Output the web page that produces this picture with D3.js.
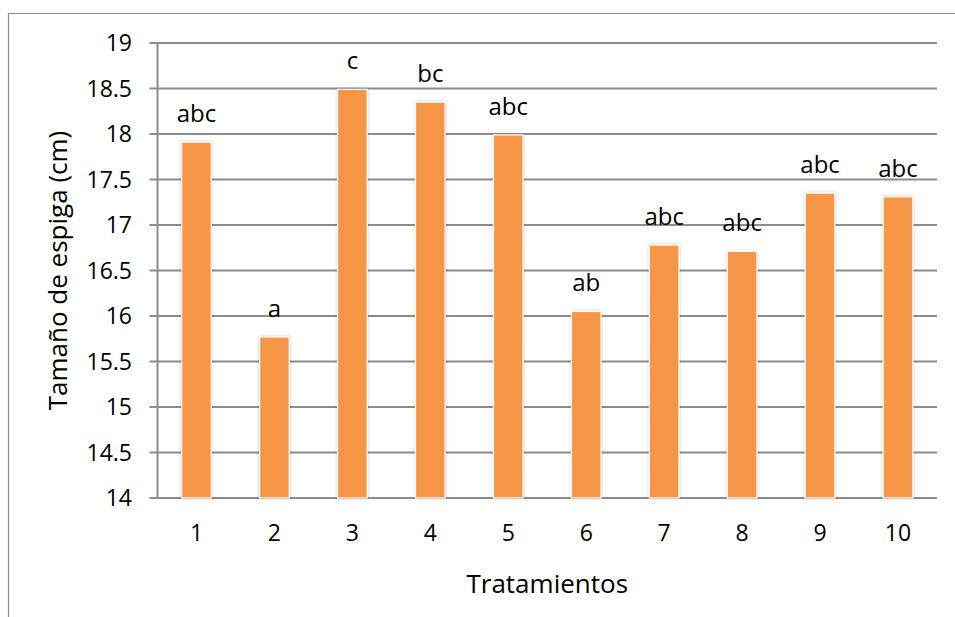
<!DOCTYPE html>
<html>
<head>
<meta charset="utf-8">
<script src="https://cdn.jsdelivr.net/npm/d3@7"></script>
<style>
  body { margin: 0; background: #fff; }
  svg { display: block; font-family: "Open Sans", sans-serif; }
</style>
</head>
<body>
<div id="chart"></div>
<script>
const categories = ["1", "2", "3", "4", "5", "6", "7", "8", "9", "10"];
const values = [17.91, 15.77, 18.49, 18.35, 17.99, 16.05, 16.78, 16.71, 17.35, 17.31];
const letters = ["abc", "a", "c", "bc", "abc", "ab", "abc", "abc", "abc", "abc"];
const yTicks = [14, 14.5, 15, 15.5, 16, 16.5, 17, 17.5, 18, 18.5, 19];

const width = 955;
const height = 617;
const margin = { top: 43, right: 18, bottom: 119, left: 157.5 };

const svg = d3.select("#chart").append("svg")
  .attr("width", width)
  .attr("height", height);

const defs = svg.append("defs");
const shadow = defs.append("filter").attr("id", "shadow")
  .attr("x", "-30%").attr("y", "-10%").attr("width", "160%").attr("height", "120%");
shadow.append("feDropShadow")
  .attr("dx", 0).attr("dy", 0).attr("stdDeviation", 1.6)
  .attr("flood-color", "#000").attr("flood-opacity", 0.25);

// outer frame (top and left edges visible)
svg.append("path")
  .attr("d", `M8.5,${height}V13.5H${width}`)
  .attr("fill", "none")
  .attr("stroke", "#8c8c8c")
  .attr("stroke-width", 1.2);

const x = d3.scaleBand()
  .domain(categories)
  .range([margin.left, width - margin.right])
  .paddingInner(0.62)
  .paddingOuter(0.31);

const y = d3.scaleLinear()
  .domain([14, 19])
  .range([height - margin.bottom, margin.top]);

// grid
svg.append("g")
  .selectAll("line")
  .data(yTicks)
  .join("line")
  .attr("x1", margin.left - 8)
  .attr("x2", width - margin.right)
  .attr("y1", (d) => y(d))
  .attr("y2", (d) => y(d))
  .attr("stroke", "#8c8c8c")
  .attr("stroke-width", 2);

// y axis line
svg.append("line")
  .attr("x1", margin.left).attr("x2", margin.left)
  .attr("y1", y(19)).attr("y2", y(14))
  .attr("stroke", "#8c8c8c")
  .attr("stroke-width", 2);

// y tick labels
svg.append("g")
  .selectAll("text")
  .data(yTicks)
  .join("text")
  .attr("x", 132)
  .attr("y", (d) => y(d))
  .attr("dy", "0.35em")
  .attr("text-anchor", "end")
  .attr("font-size", 23)
  .attr("fill", "#000")
  .text((d) => d);

// bars
svg.append("g")
  .selectAll("rect")
  .data(values)
  .join("rect")
  .attr("x", (d, i) => x(categories[i]))
  .attr("width", x.bandwidth())
  .attr("y", (d) => y(d))
  .attr("height", (d) => y(14) - y(d))
  .attr("fill", "#f79646")
  .attr("stroke", "#fff")
  .attr("stroke-width", 1.2)
  .attr("filter", "url(#shadow)");

// significance letters
svg.append("g")
  .selectAll("text")
  .data(values)
  .join("text")
  .attr("x", (d, i) => x(categories[i]) + x.bandwidth() / 2)
  .attr("y", (d) => y(d) - 20)
  .attr("text-anchor", "middle")
  .attr("font-size", 24)
  .attr("fill", "#000")
  .text((d, i) => letters[i]);

// x tick labels
svg.append("g")
  .selectAll("text")
  .data(categories)
  .join("text")
  .attr("x", (d) => x(d) + x.bandwidth() / 2)
  .attr("y", y(14) + 43)
  .attr("text-anchor", "middle")
  .attr("font-size", 23)
  .attr("fill", "#000")
  .text((d) => d);

// axis titles
svg.append("text")
  .attr("x", (margin.left + width - margin.right) / 2)
  .attr("y", 593)
  .attr("text-anchor", "middle")
  .attr("font-size", 26)
  .attr("fill", "#000")
  .text("Tratamientos");

svg.append("text")
  .attr("transform", `translate(67,${(y(14) + y(19)) / 2})rotate(-90)`)
  .attr("text-anchor", "middle")
  .attr("font-size", 26)
  .attr("fill", "#000")
  .text("Tamaño de espiga (cm)");
</script>
</body>
</html>
